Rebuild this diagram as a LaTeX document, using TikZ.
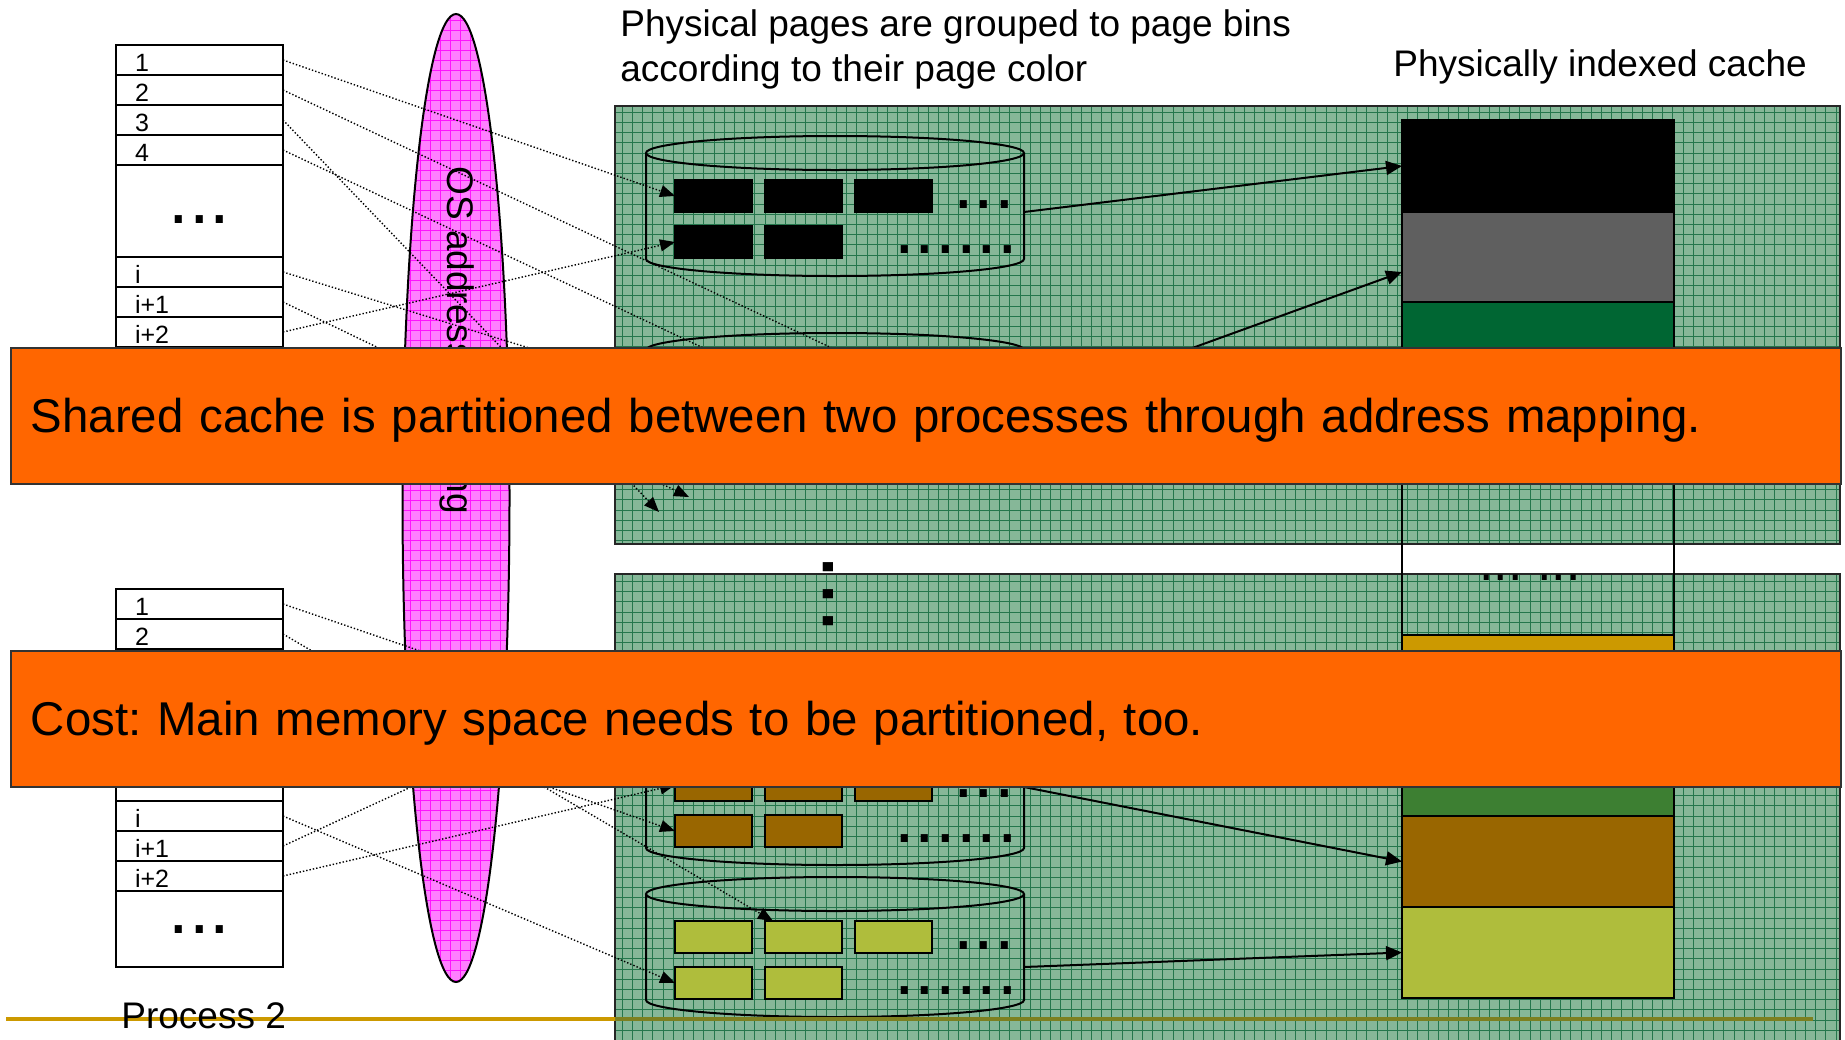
\documentclass[tikz,border=0pt]{standalone}
\usepackage{fontspec}
\setmainfont{Liberation Sans}
\usetikzlibrary{positioning,arrows.meta,calc}
\frenchspacing

\definecolor{panelfill}{RGB}{134,183,152}
\definecolor{panelgrid}{RGB}{36,118,76}
\definecolor{osfill}{RGB}{255,128,255}
\definecolor{osgrid}{RGB}{255,20,255}
\definecolor{bannerorange}{RGB}{255,102,0}
\definecolor{cachegray}{RGB}{95,95,95}
\definecolor{cachegreen}{RGB}{0,102,51}
\definecolor{cachegold}{RGB}{204,153,0}
\definecolor{cachegreentwo}{RGB}{61,127,50}
\definecolor{cachebrown}{RGB}{153,102,0}
\definecolor{cacheyellow}{RGB}{175,189,60}
\definecolor{olivebar}{RGB}{125,128,32}

\tikzset{
  captext/.style={inner sep=0pt, font=\fontsize{18.5}{22.3}\selectfont},
  slot/.style={draw, line width=1pt, fill=white, anchor=north west, outer sep=0pt, minimum height=15pt,
    text width=64.5pt, inner xsep=9.5pt, inner ysep=0pt, align=left, text height=11.5pt, text depth=0pt,
    font=\fontsize{12.5}{12.5}\selectfont},
  gapslot/.style={slot, align=center, text height=4pt, font=\fontsize{37}{37}\selectfont},
  page/.style={draw, line width=0.9pt, outer sep=0pt, minimum width=38.5pt, minimum height=16pt, inner sep=0pt},
  bindots/.style={inner sep=0pt, anchor=base, font=\fontsize{37}{37}\selectfont},
  binline/.style={line width=1pt},
  cell/.style={draw, line width=1pt, anchor=north west, outer sep=0pt, minimum width=136pt, inner sep=0pt},
  map/.style={line width=0.7pt, dash pattern=on 0.7pt off 1pt, -{Triangle[length=7.5pt,width=6pt]}},
  feed/.style={line width=1pt, -{Triangle[length=8pt,width=7pt]}},
  gridbg/.style={line width=0.45pt, step=5.1pt},
  banner/.style={draw=black!80, line width=0.8pt, fill=bannerorange, anchor=north west,
    minimum width=915pt, minimum height=68pt, text width=895pt, inner xsep=10pt, inner ysep=0pt,
    align=left, text height=17pt, text depth=0pt, font=\fontsize{23.7}{23.7}\selectfont}
}

\begin{document}
\begin{tikzpicture}[x=0.5pt,y=-0.5pt]
  \clip (0,0) rectangle (1845,1039);
  \fill[white] (0,0) rectangle (1845,1039);

  % captions
  \node[captext, anchor=north west, align=left] (bintitle) at (620,9.5) {Physical pages are grouped to page bins\\according to their page color};
  \node[captext, anchor=base west] (cachetitle) at (1393,76) {Physically indexed cache};

  % physical memory panels
  \foreach \ya/\yb in {106/544, 574/1045} {
    \begin{scope}
      \clip (615,\ya) rectangle (1840,\yb);
      \fill[panelfill] (615,\ya) rectangle (1840,\yb);
      \draw[gridbg, panelgrid] (615,\yb) grid (1840,\ya);
    \end{scope}
    \draw[line width=1pt, black!85] (615,\ya) rectangle (1840,\yb);
  }

  % page bins
  \foreach \bn/\y/\col/\off in {bk/153/black/59, gy/350/cachegray/59, br/742/cachebrown/45, yl/894/cacheyellow/73} {
    \draw[binline] (646,\y) -- (646,\y+106) arc[start angle=180, end angle=360, x radius=94.5pt, y radius=8.5pt] -- (1024,\y);
    \draw[binline] (835,\y) ellipse[x radius=94.5pt, y radius=8.5pt];
    \node[page, fill=\col] (\bn11) at (713.5,\y+43) {};
    \node[page, fill=\col, right=6.5pt of \bn11] (\bn12) {};
    \node[page, fill=\col, right=6.5pt of \bn12] (\bn13) {};
    \node[page, fill=\col, below=7pt of \bn11] (\bn21) {};
    \node[page, fill=\col, right=6.5pt of \bn21] (\bn22) {};
    \node[bindots] (\bn d1) at (984,\y+55) {...};
    \node[bindots] (\bn d2) at (956,\y+100) {......};
    \coordinate (\bn out) at (1024,\y+\off);
  }

  % cache
  \node[cell, fill=black, minimum height=46pt] (cblack) at (1402,120) {};
  \node[cell, fill=cachegray, minimum height=45pt, below=0pt of cblack] (cgray) {};
  \node[cell, fill=cachegreen, minimum height=45pt, below=0pt of cgray] (cgreen) {};
  \node[cell, fill=cachegold, minimum height=45pt] (cgold) at (1402,635) {};
  \node[cell, fill=cachegreentwo, minimum height=45.5pt, below=0pt of cgold] (cgreentwo) {};
  \node[cell, fill=cachebrown, minimum height=45.5pt, below=0pt of cgreentwo] (cbrown) {};
  \node[cell, fill=cacheyellow, minimum height=45.5pt, below=0pt of cbrown] (cyellow) {};
  \draw[line width=1pt] (cblack.north west) rectangle (cyellow.south east);
  \node[inner sep=0pt, anchor=base, font=\fontsize{26}{26}\selectfont] (cachedots) at (1530,580.7) {... ...};

  \node[rotate=90, inner sep=0pt, font=\fontsize{48}{48}\selectfont] (moredots) at (828,594) {...};

  % rule
  \draw[line width=2pt, cachegold] (6,1019) -- (615,1019);
  \draw[line width=2pt, olivebar] (615,1019) -- (1813,1019);

  % OS address mapping
  \begin{scope}
    \clip (456,498) ellipse[x radius=26.75pt, y radius=242pt];
    \fill[osfill] (400,0) rectangle (520,1000);
    \draw[gridbg, step=5pt, osgrid] (400,1000) grid (520,0);
  \end{scope}
  \draw[line width=1pt] (456,498) ellipse[x radius=26.75pt, y radius=242pt];
  \node[captext, rotate=-90, anchor=base west] (osmap) at (447,166) {OS address mapping};

  % virtual pages of the two processes
  \foreach \tb/\ytop/\pn in {A/45/1, B/589/2} {
    \node[slot] (\tb1) at (116,\ytop) {1};
    \node[slot, below=0pt of \tb1] (\tb2) {2};
    \node[slot, below=0pt of \tb2] (\tb3) {3};
    \node[slot, below=0pt of \tb3] (\tb4) {4};
    \node[gapslot, minimum height=46pt, text height=12pt, below=0pt of \tb4] (\tb gap) {...};
    \node[slot, below=0pt of \tb gap] (\tb i) {i};
    \node[slot, below=0pt of \tb i] (\tb j) {i+1};
    \node[slot, below=0pt of \tb j] (\tb k) {i+2};
    \node[gapslot, minimum height=38pt, below=0pt of \tb k] (\tb end) {...};
    \node[captext, anchor=base west] (\tb label) at (121,\ytop+439) {Process \pn};
  }

  % mapping
  \coordinate (Adrop) at (659,512);
  \coordinate (Askew) at (689,497);
  \coordinate (Bdrop) at (600,700);
  \draw[map] (A1.east) -- (bk11.west);
  \draw[map] (A2.east) -- (gy13.north);
  \draw[map] (A3.east) -- (Adrop);
  \draw[map] (A4.east) -- (gy12.north west);
  \draw[map] (Ai.east) -- (gy11.west);
  \draw[map] (Aj.east) -- (Askew);
  \draw[map] (Ak.east) -- (bk21.west);
  \draw[map] (B1.east) -- (br12.north west);
  \draw[map] (B2.east) -- ($(yl12.north west)+(8,0)$);
  \draw[map] (B4.east) -- (br21.west);
  \draw[map] (Bi.east) -- (yl21.west);
  \draw[map] (Bj.east) -- (Bdrop);
  \draw[map] (Bk.east) -- (br11.west);

  % bins to cache
  \draw[feed] (bkout) -- (cblack.west);
  \draw[feed] (gyout) -- ($(cgray.west)+(0,15)$);
  \draw[feed] (brout) -- (cbrown.west);
  \draw[feed] (ylout) -- (cyellow.west);

  % messages
  \node[banner] (msgcache) at (10,347) {Shared cache is partitioned between two processes through address mapping.};
  \node[banner] (msgcost) at (10,650) {Cost: Main memory space needs to be partitioned, too.};
\end{tikzpicture}
\end{document}
